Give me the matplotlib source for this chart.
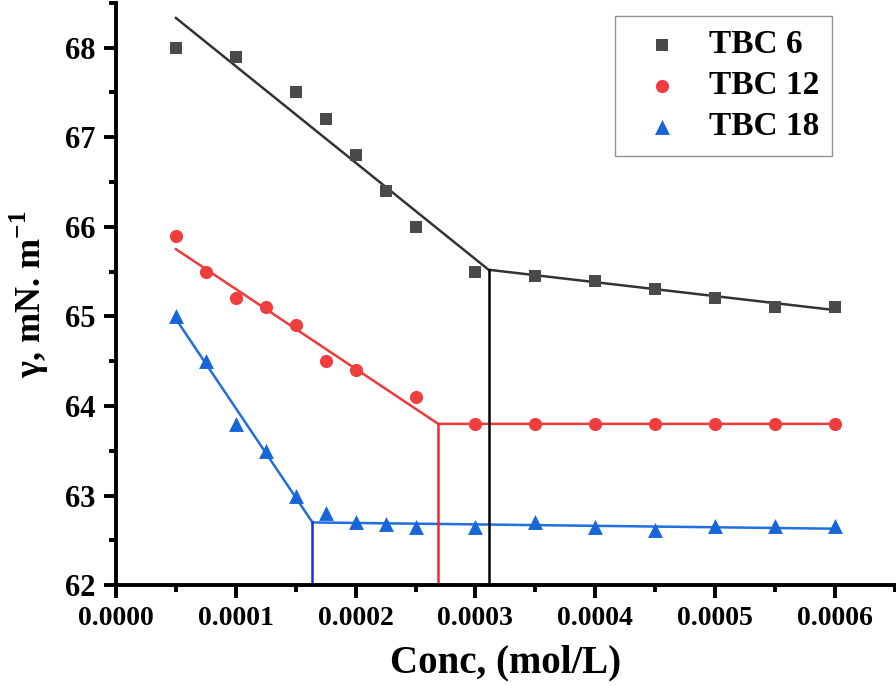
import matplotlib
matplotlib.use("Agg")
import matplotlib.pyplot as plt
from matplotlib.ticker import MultipleLocator, FormatStrFormatter

plt.rcParams['font.family'] = ['Liberation Serif', 'DejaVu Serif']
plt.rcParams['font.weight'] = 'bold'
plt.rcParams['mathtext.fontset'] = 'custom'
plt.rcParams['mathtext.rm'] = 'Liberation Serif:bold'
plt.rcParams['mathtext.bf'] = 'Liberation Serif:bold'

# Data
x6 = [0.00005, 0.0001, 0.00015, 0.000175, 0.0002, 0.000225, 0.00025,
      0.0003, 0.00035, 0.0004, 0.00045, 0.0005, 0.00055, 0.0006]
y6 = [68.0, 67.9, 67.5, 67.2, 66.8, 66.4, 66.0,
      65.5, 65.45, 65.4, 65.3, 65.2, 65.1, 65.1]

x12 = [0.00005, 0.000075, 0.0001, 0.000125, 0.00015, 0.000175, 0.0002, 0.00025,
       0.0003, 0.00035, 0.0004, 0.00045, 0.0005, 0.00055, 0.0006]
y12 = [65.9, 65.5, 65.2, 65.1, 64.9, 64.5, 64.4, 64.1,
       63.8, 63.8, 63.8, 63.8, 63.8, 63.8, 63.8]

x18 = [0.00005, 0.000075, 0.0001, 0.000125, 0.00015, 0.000175, 0.0002, 0.000225,
       0.00025, 0.0003, 0.00035, 0.0004, 0.00045, 0.0005, 0.00055, 0.0006]
y18 = [65.0, 64.5, 63.8, 63.5, 63.0, 62.8, 62.7, 62.68,
       62.65, 62.65, 62.7, 62.65, 62.62, 62.66, 62.66, 62.66]

# Fit lines (breakpoints = CMC)
fit6_x = [0.00005, 0.000311, 0.0006]
fit6_y = [68.33, 65.52, 65.07]
fit12_x = [0.00005, 0.000269, 0.0006]
fit12_y = [65.75, 63.8, 63.8]
fit18_x = [0.00005, 0.000164, 0.0006]
fit18_y = [64.97, 62.7, 62.63]

cmc_x = [0.000311, 0.000269, 0.000164]
cmc_y = [65.52, 63.8, 62.7]

fig = plt.figure(figsize=(8.96, 6.86), dpi=100)
ax = fig.add_axes([0.1295, 0.147, 0.869, 0.849])

ax.plot(fit6_x, fit6_y, color='#333333', lw=1.8, zorder=2)
ax.plot(fit12_x, fit12_y, color='#ee3a3a', lw=1.8, zorder=2)
ax.plot(fit18_x, fit18_y, color='#1f6fdc', lw=1.8, zorder=2)

ax.plot([cmc_x[0], cmc_x[0]], [62, cmc_y[0]], color='black', lw=1.8, zorder=2)
ax.plot([cmc_x[1], cmc_x[1]], [62, cmc_y[1]], color='#ee2a2a', lw=1.8, zorder=2)
ax.plot([cmc_x[2], cmc_x[2]], [62, cmc_y[2]], color='#1a2ee8', lw=1.8, zorder=2)

ax.scatter(x6, y6, marker='s', s=78, color='#4a4a4a', label='TBC 6', zorder=3, linewidths=0)
ax.scatter(x12, y12, marker='o', s=90, color='#f03e3e', label='TBC 12', zorder=3, linewidths=0)
ax.scatter(x18, y18, marker='^', s=115, color='#1766d9', label='TBC 18', zorder=3, linewidths=0)

ax.set_xlim(0, 0.00065)
ax.set_ylim(62, 68.5)

ax.xaxis.set_major_locator(MultipleLocator(0.0001))
ax.xaxis.set_minor_locator(MultipleLocator(0.00005))
ax.xaxis.set_major_formatter(FormatStrFormatter('%.4f'))
ax.yaxis.set_major_locator(MultipleLocator(1))
ax.yaxis.set_minor_locator(MultipleLocator(0.5))

for s in ['top', 'right']:
    ax.spines[s].set_visible(False)
for s in ['left', 'bottom']:
    ax.spines[s].set_linewidth(2.8)

ax.tick_params(which='major', direction='out', length=9, width=2.8, pad=6)
ax.tick_params(which='minor', direction='out', length=5, width=2.8)
ax.tick_params(axis='x', which='major', labelsize=20)
ax.tick_params(axis='y', which='major', labelsize=22)
for lab in ax.get_xticklabels() + ax.get_yticklabels():
    lab.set_fontweight('bold')

ax.set_xlabel('Conc, (mol/L)', fontsize=28, fontweight='bold', labelpad=10)
ax.set_ylabel('γ, mN. m$^{-1}$', fontsize=26, fontweight='bold', labelpad=10)

leg = ax.legend(loc='upper right', bbox_to_anchor=(0.92, 0.977), borderaxespad=0,
                frameon=True, fancybox=False, edgecolor='#777777',
                handletextpad=0.4, borderpad=0.4, labelspacing=0.3,
                prop={'weight': 'bold', 'size': 24})
leg.get_frame().set_linewidth(1.0)

fig.savefig('out.png', dpi=100)
